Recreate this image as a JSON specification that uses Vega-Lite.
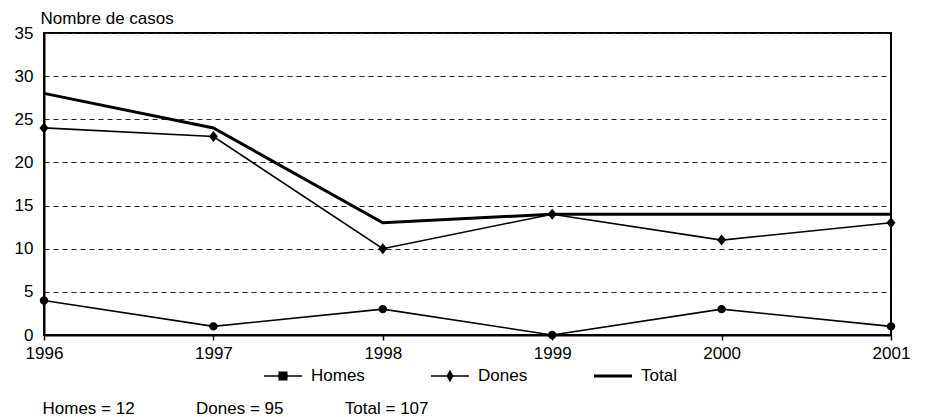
{
  "$schema": "https://vega.github.io/schema/vega-lite/v6.json",
  "autosize": "none",
  "width": 847,
  "height": 302,
  "padding": {"left": 44, "top": 33, "right": 37, "bottom": 82},
  "background": "white",
  "config": {
    "font": "Liberation Sans",
    "view": {"stroke": "black", "strokeWidth": 2},
    "axis": {"labelFont": "Liberation Sans", "labelFontSize": 17, "labelColor": "black", "titleColor": "black", "domainColor": "black", "domainWidth": 2}
  },
  "data": {
    "values": [
      {"year": 1996, "series": "Homes", "value": 4},
      {"year": 1997, "series": "Homes", "value": 1},
      {"year": 1998, "series": "Homes", "value": 3},
      {"year": 1999, "series": "Homes", "value": 0},
      {"year": 2000, "series": "Homes", "value": 3},
      {"year": 2001, "series": "Homes", "value": 1},
      {"year": 1996, "series": "Dones", "value": 24},
      {"year": 1997, "series": "Dones", "value": 23},
      {"year": 1998, "series": "Dones", "value": 10},
      {"year": 1999, "series": "Dones", "value": 14},
      {"year": 2000, "series": "Dones", "value": 11},
      {"year": 2001, "series": "Dones", "value": 13},
      {"year": 1996, "series": "Total", "value": 28},
      {"year": 1997, "series": "Total", "value": 24},
      {"year": 1998, "series": "Total", "value": 13},
      {"year": 1999, "series": "Total", "value": 14},
      {"year": 2000, "series": "Total", "value": 14},
      {"year": 2001, "series": "Total", "value": 14}
    ]
  },
  "encoding": {
    "x": {
      "field": "year", "type": "quantitative",
      "scale": {"domain": [1996, 2001], "nice": false, "zero": false},
      "axis": {
        "values": [1996, 1997, 1998, 1999, 2000, 2001], "format": "d", "grid": false, "ticks": true, "tickSize": 5, "tickColor": "black", "tickWidth": 1.5, "labelPadding": 5, "labelFlush": false,
        "title": "Homes = 12\u00a0\u00a0\u00a0\u00a0\u00a0\u00a0\u00a0\u00a0\u00a0\u00a0\u00a0\u00a0\u00a0Dones = 95\u00a0\u00a0\u00a0\u00a0\u00a0\u00a0\u00a0\u00a0\u00a0\u00a0\u00a0\u00a0\u00a0Total = 107",
        "titleAlign": "left", "titleBaseline": "alphabetic", "titleX": -2, "titleY": 78,
        "titleFont": "Liberation Sans", "titleFontSize": 17, "titleFontWeight": "normal"
      }
    },
    "y": {
      "field": "value", "type": "quantitative",
      "scale": {"domain": [0, 35], "nice": false},
      "axis": {
        "values": [0, 5, 10, 15, 20, 25, 30, 35],
        "ticks": false, "labelPadding": 11,
        "grid": true, "gridColor": "#222222", "gridDash": [5, 4], "gridWidth": 1,
        "title": "Nombre de casos", "titleAngle": 0, "titleAlign": "left", "titleBaseline": "alphabetic",
        "titleX": -4, "titleY": -10, "titleFont": "Liberation Sans", "titleFontSize": 17, "titleFontWeight": "normal"
      }
    }
  },
  "layer": [
    {
      "transform": [{"filter": "datum.series !== 'Total'"}],
      "mark": {"type": "line", "color": "black", "strokeWidth": 1.6},
      "encoding": {"detail": {"field": "series"}}
    },
    {
      "transform": [{"filter": "datum.series === 'Total'"}],
      "mark": {"type": "line", "color": "black", "strokeWidth": 3},
      "encoding": {}
    },
    {
      "transform": [{"filter": "datum.series !== 'Total'"}],
      "mark": {"type": "point", "filled": true, "color": "black", "opacity": 1, "size": 121},
      "encoding": {
        "shape": {
          "field": "series", "type": "nominal",
          "scale": {"domain": ["Homes", "Dones"], "range": ["M-0.77,0A0.77,0.77,0,1,0,0.77,0A0.77,0.77,0,1,0,-0.77,0Z", "M0,-1L0.82,0L0,1L-0.82,0Z"]},
          "legend": null
        }
      }
    },
    {
      "mark": {"type": "point", "filled": true, "fill": "black", "opacity": 0, "size": 1444},
      "encoding": {
        "shape": {
          "field": "series", "type": "nominal",
          "scale": {"domain": ["Homes", "Dones", "Total"], "range": ["M-1,-0.042H1V0.042H-1ZM-0.24,-0.24H0.24V0.24H-0.24Z", "M-1,-0.042H1V0.042H-1ZM0,-0.33L0.19,0L0,0.33L-0.19,0Z", "M-1,-0.08H1V0.08H-1Z"]},
          "legend": {
            "orient": "none", "legendX": 220, "legendY": 324, "direction": "horizontal",
            "title": null, "symbolSize": 1444, "labelFont": "Liberation Sans", "labelFontSize": 17,
            "labelColor": "black", "labelOffset": 9, "columnPadding": 66,
            "symbolOpacity": 1, "symbolFillColor": "black", "symbolStrokeWidth": 0
          }
        }
      }
    }
  ],
  "resolve": {"scale": {"shape": "independent"}, "legend": {"shape": "independent"}}
}
